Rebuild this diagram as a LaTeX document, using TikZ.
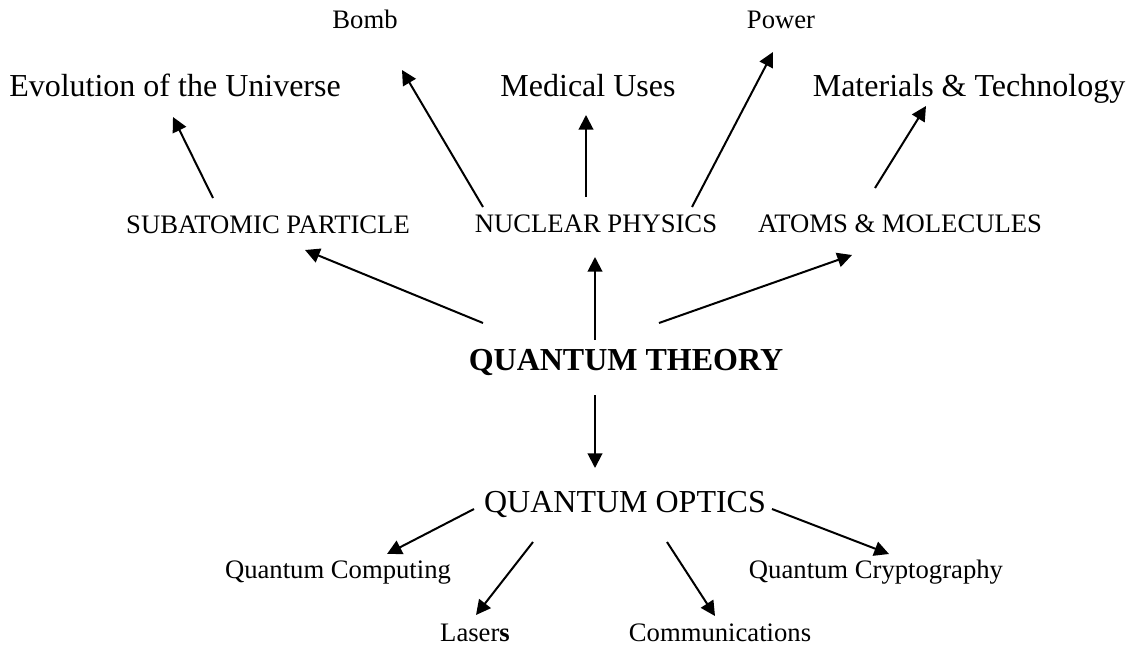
\documentclass[tikz,border=0pt]{standalone}
\usepackage{fontspec}
\setmainfont{Liberation Serif}
\usetikzlibrary{arrows.meta}
\begin{document}
\begin{tikzpicture}[x=0.75pt,y=-0.75pt,
  lbl/.style={inner sep=0pt,anchor=base},
  big/.style={lbl,font=\fontsize{24}{28}\selectfont},
  mid/.style={lbl,font=\fontsize{20}{24}\selectfont},
  hub/.style={lbl,font=\fontsize{24}{28}\selectfont\bfseries},
  arr/.style={line width=1.5pt,-{Triangle[length=11pt,width=11pt]}}]
\path[use as bounding box] (0,0) rectangle (1135,646);
% labels
\node[mid] (bomb)   at (365,28)  {Bomb};
\node[mid] (power)  at (781,28)  {Power};
\node[big] (evo)    at (175,96)  {Evolution of the Universe};
\node[big] (med)    at (588,96)  {Medical Uses};
\node[big] (mat)    at (969,96)  {Materials \& Technology};
\node[mid] (sub)    at (268,233) {SUBATOMIC PARTICLE};
\node[mid] (nuc)    at (596,232) {NUCLEAR PHYSICS};
\node[mid] (atoms)  at (900,232) {ATOMS \& MOLECULES};
\node[hub] (qt)     at (626,370) {QUANTUM THEORY};
\node[big] (qo)     at (625,512) {QUANTUM OPTICS};
\node[mid] (comp)   at (338,578) {Quantum Computing};
\node[mid] (crypt)  at (876,578) {Quantum Cryptography};
\node[mid] (lasers) at (475,641) {Laser\textbf{s}};
\node[mid] (comm)   at (720,641) {Communications};
% connectors
\draw[arr] ([shift={(-55,-35)}]sub.base) -- ([shift={(-2,21)}]evo.base);
\draw[arr] ([shift={(-113,-25)}]nuc.base) -- ([shift={(37,42)}]bomb.base);
\draw[arr] ([shift={(-10,-35)}]nuc.base) -- ([shift={(-2,19)}]med.base);
\draw[arr] ([shift={(96,-25)}]nuc.base) -- ([shift={(-8,24)}]power.base);
\draw[arr] ([shift={(-25,-44)}]atoms.base) -- ([shift={(-43,10)}]mat.base);
\draw[arr] ([shift={(-143,-47)}]qt.base) -- ([shift={(37,17)}]sub.base);
\draw[arr] ([shift={(-31,-30)}]qt.base) -- ([shift={(-1,25)}]nuc.base);
\draw[arr] ([shift={(33,-47)}]qt.base) -- ([shift={(-48,23)}]atoms.base);
\draw[arr] ([shift={(-31,25)}]qt.base) -- ([shift={(-30,-44)}]qo.base);
\draw[arr] ([shift={(-151,-3)}]qo.base) -- ([shift={(49,-24)}]comp.base);
\draw[arr] ([shift={(-92,30)}]qo.base) -- ([shift={(1,-26)}]lasers.base);
\draw[arr] ([shift={(42,30)}]qo.base) -- ([shift={(-5,-25)}]comm.base);
\draw[arr] ([shift={(147,-3)}]qo.base) -- ([shift={(13,-24)}]crypt.base);
\end{tikzpicture}
\end{document}
